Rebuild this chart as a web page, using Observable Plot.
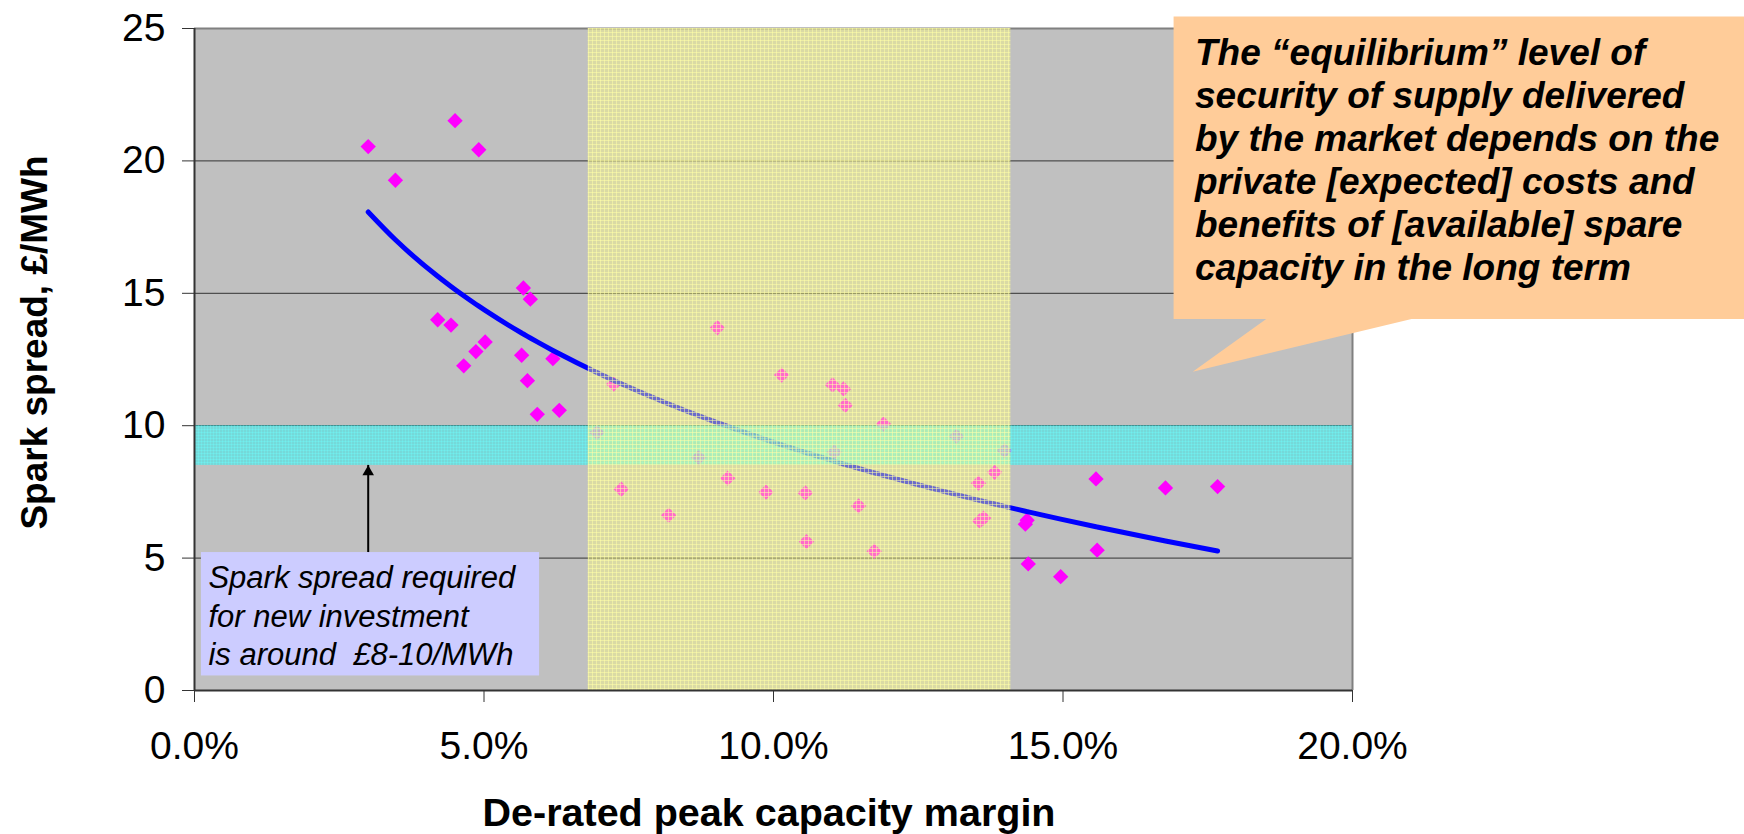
<!DOCTYPE html>
<html>
<head>
<meta charset="utf-8">
<script src="https://cdn.jsdelivr.net/npm/d3@7"></script>
<script src="https://cdn.jsdelivr.net/npm/@observablehq/plot@0.6"></script>
<style>
  html, body { margin: 0; padding: 0; background: #fff; overflow: hidden; }
  #chart svg { display: block; }
</style>
</head>
<body>
<!-- fill patterns for the shaded bands -->
<svg width="0" height="0" style="position:absolute">
  <defs>
    <pattern id="yellowMesh" width="4" height="4" patternUnits="userSpaceOnUse">
      <rect width="4" height="4" fill="#ffff80" fill-opacity="0.42"></rect>
      <path d="M0 0.5H4M0.5 0V4" stroke="#ffffa8" stroke-opacity="0.55" stroke-width="1"></path>
    </pattern>
    <pattern id="cyanMesh" width="3" height="3" patternUnits="userSpaceOnUse">
      <rect width="3" height="3" fill="#30f0f0" fill-opacity="0.52"></rect>
      <path d="M0 0.5H3M0.5 0V3" stroke="#70ffff" stroke-opacity="0.35" stroke-width="1"></path>
    </pattern>
  </defs>
</svg>
<div id="chart"></div>
<script>
// De-rated peak capacity margin (%) and observed spark spread (£/MWh)
const marginPct = [
  3.00, 3.47, 4.50, 4.91, 5.68, 5.80, 4.20, 4.43, 5.02, 4.86, 4.65, 5.65,
  6.19, 5.75, 5.92, 6.30, 7.24, 6.95, 9.03, 7.37, 8.19, 8.71, 9.21, 9.87,
  10.14, 10.55, 10.57, 11.02, 11.21, 11.24, 11.05, 11.90, 11.47, 11.74, 13.16, 13.99,
  13.82, 13.54, 13.63, 13.56, 14.38, 14.35, 14.40, 15.57, 16.77, 17.67, 15.59, 14.96
];
const sparkSpread = [
  20.54, 19.27, 21.52, 20.42, 15.20, 14.78, 14.00, 13.80, 13.16, 12.80, 12.26, 12.66,
  12.53, 11.70, 10.43, 10.58, 11.57, 9.74, 13.70, 7.60, 6.62, 8.80, 8.02, 7.49,
  11.91, 7.46, 5.62, 11.54, 11.39, 10.77, 9.00, 10.06, 6.97, 5.26, 9.60, 9.06,
  8.24, 7.83, 6.51, 6.40, 6.43, 6.28, 4.78, 7.99, 7.65, 7.70, 5.30, 4.30
];

// Axis ticks
const xTicks = [0, 5, 10, 15, 20];
const yTicks = [0, 5, 10, 15, 20, 25];

// Shaded ranges: spark spread needed for new build, and the equilibrium margin range
const investmentBand = [8.5, 10];
const equilibriumBand = [6.8, 14.1];

// Annotation texts
const noteLines = ["Spark spread required", "for new investment", "is around\u00a0 £8-10/MWh"];
const calloutLines = [
  "The “equilibrium” level of",
  "security of supply delivered",
  "by the market depends on the",
  "private [expected] costs and",
  "benefits of [available] spare",
  "capacity in the long term"
];

// Annotation placement, in chart units (x in %, y in £/MWh)
const noteBox = {x1: 0.12, x2: 5.96, y1: 0.55, y2: 5.21, textX: 0.24, textY: 4.89, arrowX: 3.0};
const callout = {x1: 16.91, x2: 26.77, y1: 14.03, y2: 25.45, base1: 18.51, base2: 21.02,
                 tipX: 17.24, tipY: 12.04, textX: 17.28, textY: 24.78};

const points = marginPct.map((x, i) => ({x, y: sparkSpread[i]}));

// Logarithmic least-squares trend: y = a + b·ln(x)
const lx = marginPct.map(Math.log);
const mlx = d3.mean(lx), my = d3.mean(sparkSpread);
const b = d3.sum(lx, (v, i) => (v - mlx) * (sparkSpread[i] - my)) / d3.sum(lx, v => (v - mlx) ** 2);
const a = my - b * mlx;
const trend = d3.sort(marginPct).map(x => ({x, y: a + b * Math.log(x)}));

const calloutShape = [
  [callout.x1, callout.y2], [callout.x2, callout.y2], [callout.x2, callout.y1],
  [callout.base2, callout.y1], [callout.tipX, callout.tipY], [callout.base1, callout.y1],
  [callout.x1, callout.y1]
];

const chart = Plot.plot({
  width: 1744,
  height: 834,
  marginLeft: 194,
  marginRight: 392,
  marginTop: 28,
  marginBottom: 144,
  style: {fontFamily: "'Liberation Sans', Arial, sans-serif", background: "#fff", color: "#000", overflow: "visible"},
  x: {domain: [0, 20]},
  y: {domain: [0, 25]},
  marks: [
    Plot.frame({fill: "#c0c0c0", stroke: null}),
    Plot.ruleY([5, 10, 15, 20], {stroke: "#333", strokeWidth: 1}),
    Plot.ruleY([25], {stroke: "#808080", strokeWidth: 2}),
    Plot.ruleX([20], {stroke: "#808080", strokeWidth: 2}),
    Plot.dot(points, {x: "x", y: "y", symbol: "diamond2", r: 6.9, fill: "#ff00ff", stroke: null}),
    Plot.line(trend, {x: "x", y: "y", stroke: "#0000ff", strokeWidth: 5, curve: "monotone-x", strokeLinecap: "round"}),
    Plot.rect([investmentBand], {y1: d => d[0], y2: d => d[1], fill: "url(#cyanMesh)"}),
    Plot.rect([equilibriumBand], {x1: d => d[0], x2: d => d[1], fill: "url(#yellowMesh)"}),
    Plot.ruleY([0], {stroke: "#333", strokeWidth: 2}),
    Plot.ruleX([0], {stroke: "#333", strokeWidth: 2}),
    Plot.axisX({ticks: xTicks, tickFormat: d => d.toFixed(1) + "%", tickSize: 12, tickPadding: 29, fontSize: 39, label: null, stroke: "#333"}),
    Plot.axisY({ticks: yTicks, tickSize: 12, tickPadding: 17, fontSize: 39, label: null, stroke: "#333"}),
    // note box with arrow up to the investment band
    Plot.rect([noteBox], {x1: "x1", x2: "x2", y1: "y1", y2: "y2", fill: "#ccccff"}),
    Plot.ruleX([noteBox], {x: "arrowX", y1: "y2", y2: () => investmentBand[0], stroke: "#000", strokeWidth: 2}),
    Plot.dot([noteBox], {x: "arrowX", y: () => investmentBand[0], symbol: "triangle", r: 4.3, dy: 6.6, fill: "#000", stroke: null}),
    Plot.text([noteLines.join("\n")], {x: () => noteBox.textX, y: () => noteBox.textY, text: d => d,
      textAnchor: "start", lineAnchor: "top", lineHeight: 1.242, fontSize: 31, fontStyle: "italic", fill: "#000"}),
    // speech-bubble callout
    Plot.line(calloutShape, {x: d => d[0], y: d => d[1], fill: "#ffcc99", stroke: null}),
    Plot.text([calloutLines.join("\n")], {x: () => callout.textX, y: () => callout.textY, text: d => d,
      textAnchor: "start", lineAnchor: "top", lineHeight: 1.162, fontSize: 37, fontWeight: "bold", fontStyle: "italic", fill: "#000"}),
    // axis titles
    Plot.text(["De-rated peak capacity margin"], {frameAnchor: "bottom", dx: -4.5, dy: 107, lineAnchor: "top",
      fontSize: 39.5, fontWeight: "bold", fill: "#000"}),
    Plot.text(["Spark spread, £/MWh"], {frameAnchor: "left", textAnchor: "middle", rotate: -90, dx: -159, dy: -17, lineAnchor: "middle",
      fontSize: 37, fontWeight: "bold", fill: "#000"})
  ]
});

document.getElementById("chart").append(chart);
</script>
</body>
</html>
